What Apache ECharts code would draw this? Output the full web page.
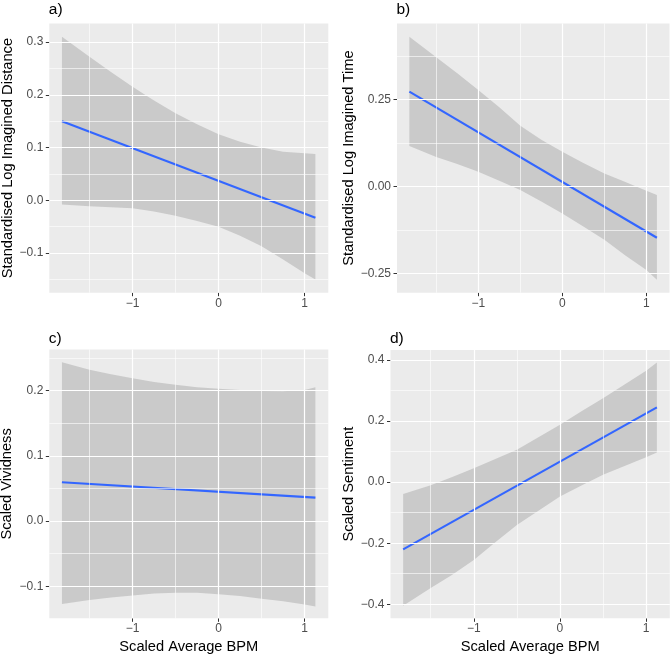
<!DOCTYPE html>
<html><head><meta charset="utf-8">
<script src="https://cdn.jsdelivr.net/npm/echarts@6/dist/echarts.min.js"></script>
<style>html,body{margin:0;padding:0;background:#fff}#c{width:671px;height:655px}</style>
</head><body><div id="c"></div>
<script>
// ---- data ----
const bandX = [-1.82, -1.5, -1.25, -1, -0.75, -0.5, -0.25, 0, 0.25, 0.5, 0.75, 1, 1.125];
const lineX = [-1.82, 1.125];

const aUpper = [0.310, 0.272, 0.243, 0.215, 0.189, 0.165, 0.144, 0.125, 0.111, 0.100, 0.092, 0.089, 0.088];
const aLower = [-0.008, -0.011, -0.013, -0.015, -0.021, -0.029, -0.039, -0.050, -0.067, -0.087, -0.112, -0.138, -0.150];
const aLine  = [0.150, -0.033];

const bUpper = [0.431, 0.372, 0.326, 0.278, 0.228, 0.175, 0.135, 0.100, 0.068, 0.038, 0.013, -0.012, -0.024];
const bLower = [0.117, 0.085, 0.065, 0.043, 0.017, -0.010, -0.043, -0.077, -0.115, -0.153, -0.198, -0.240, -0.268];
const bLine  = [0.273, -0.147];

const cUpper = [0.2435, 0.232, 0.225, 0.219, 0.213, 0.209, 0.205, 0.203, 0.201, 0.1995, 0.199, 0.201, 0.205];
const cLower = [-0.127, -0.121, -0.117, -0.114, -0.111, -0.110, -0.110, -0.112, -0.115, -0.119, -0.123, -0.128, -0.131];
const cLine  = [0.0595, 0.036];

const dUpper = [-0.039, -0.010, 0.017, 0.046, 0.076, 0.106, 0.147, 0.188, 0.232, 0.275, 0.320, 0.365, 0.392];
const dLower = [-0.405, -0.347, -0.303, -0.255, -0.197, -0.140, -0.094, -0.047, -0.011, 0.024, 0.053, 0.082, 0.097];
const dLine  = [-0.220, 0.245];

const xTicks = [-1, 0, 1];
const xMinor = [-1.5, -0.5, 0.5];
const aYTicks = [-0.1, 0, 0.1, 0.2, 0.3];
const aYMinor = [-0.15, -0.05, 0.05, 0.15, 0.25];
const bYTicks = [-0.25, 0, 0.25];
const bYMinor = [-0.125, 0.125, 0.375];
const cYTicks = [-0.1, 0, 0.1, 0.2];
const cYMinor = [-0.05, 0.05, 0.15, 0.25];
const dYTicks = [-0.4, -0.2, 0, 0.2, 0.4];
const dYMinor = [-0.3, -0.1, 0.1, 0.3];

const panelTags = ['a)', 'b)', 'c)', 'd)'];
const yTitles = ['Standardised Log Imagined Distance', 'Standardised Log Imagined Time', 'Scaled Vividness', 'Scaled Sentiment'];
const xTitle = 'Scaled Average BPM';

// ---- layout / style ----
const FONT = "'Liberation Sans', Arial, Helvetica, sans-serif";
const xRange = [-1.967, 1.275];
const panels = [
  {grid:{left:49.3, top:23.5, width:279, height:269.2}, tagTop:2, y:[-0.175, 0.335], yt:aYTicks, ym:aYMinor, dec:1, up:aUpper, lo:aLower, ln:aLine, nameGap:34, xName:false},
  {grid:{left:397, top:23.5, width:272.5, height:269.2}, tagTop:2, y:[-0.305, 0.469], yt:bYTicks, ym:bYMinor, dec:2, up:bUpper, lo:bLower, ln:bLine, nameGap:41, xName:false},
  {grid:{left:49.3, top:349.5, width:279, height:268.8}, tagTop:331, y:[-0.149, 0.263], yt:cYTicks, ym:cYMinor, dec:1, up:cUpper, lo:cLower, ln:cLine, nameGap:35, xName:true},
  {grid:{left:390.5, top:350, width:279.3, height:268.3}, tagTop:331, y:[-0.446, 0.433], yt:dYTicks, ym:dYMinor, dec:1, up:dUpper, lo:dLower, ln:dLine, nameGap:34, xName:true}
];

function fmt(v, dec) {
  return (dec == null ? String(v) : Number(v).toFixed(dec)).replace('-', '\u2212');
}

function gridLines(i, xs, ys, width) {
  const items = [];
  xs.forEach(function (v) { items.push({xAxis: v}); });
  ys.forEach(function (v) { items.push({yAxis: v}); });
  return {
    type:'line', xAxisIndex:i, yAxisIndex:i, z:1, silent:true, data:[],
    markLine:{
      silent:true, animation:false, symbol:['none', 'none'], precision:4,
      label:{show:false}, emphasis:{disabled:true},
      lineStyle:{color:'#FFFFFF', width:width, type:'solid', opacity:1},
      data:items
    }
  };
}

const grids = [], xAxes = [], yAxes = [], series = [], titles = [];
panels.forEach(function (p, i) {
  grids.push(Object.assign({show:true, backgroundColor:'#EBEBEB', borderWidth:0, outerBoundsMode:'none', containLabel:false}, p.grid));
  titles.push({text:panelTags[i], left:p.grid.left - 0.5, top:p.tagTop, padding:0,
    textStyle:{fontSize:15.5, fontWeight:'normal', color:'#000', fontFamily:FONT}});
  xAxes.push({type:'value', gridIndex:i, min:xRange[0], max:xRange[1], position:'bottom',
    axisLine:{show:false, onZero:false},
    axisTick:{show:true, length:3.5, lineStyle:{color:'#333333', width:1}, customValues:xTicks},
    axisLabel:{show:true, customValues:xTicks, formatter:function(v){return fmt(v);}, color:'#4D4D4D', fontSize:12, margin:4.5, fontFamily:FONT},
    splitLine:{show:false},
    name:p.xName ? xTitle : '', nameLocation:'middle', nameGap:21,
    nameTextStyle:{fontSize:14.67, color:'#000', fontFamily:FONT}
  });
  yAxes.push({type:'value', gridIndex:i, min:p.y[0], max:p.y[1], position:'left',
    axisLine:{show:false, onZero:false},
    axisTick:{show:true, length:3.5, lineStyle:{color:'#333333', width:1}, customValues:p.yt},
    axisLabel:{show:true, customValues:p.yt, formatter:(function(d){return function(v){return fmt(v, d);};})(p.dec), color:'#4D4D4D', fontSize:12, margin:6, fontFamily:FONT},
    splitLine:{show:false},
    name:yTitles[i], nameLocation:'middle', nameGap:p.nameGap, nameRotate:90,
    nameTextStyle:{fontSize:14.67, color:'#000', fontFamily:FONT}
  });

  series.push(gridLines(i, xMinor, p.ym, 0.6));
  series.push(gridLines(i, xTicks, p.yt, 1.2));

  const up = p.up, lo = p.lo;
  series.push({
    type:'custom', xAxisIndex:i, yAxisIndex:i, z:3, silent:true,
    data: bandX.map(function(x, k){ return [x, up[k], lo[k]]; }),
    encode:{x:0, y:[1,2]},
    renderItem:function(params, api){
      if (params.dataIndex !== 0) return null;
      const pts = [];
      for (let k = 0; k < bandX.length; k++) pts.push(api.coord([bandX[k], up[k]]));
      for (let k = bandX.length - 1; k >= 0; k--) pts.push(api.coord([bandX[k], lo[k]]));
      return {type:'polygon', shape:{points:pts}, style:{fill:'rgba(153,153,153,0.4)', stroke:null}};
    }
  });
  series.push({
    type:'line', xAxisIndex:i, yAxisIndex:i, z:4, silent:true,
    data: lineX.map(function(x, k){ return [x, p.ln[k]]; }),
    showSymbol:false, symbol:'none',
    lineStyle:{color:'#3366FF', width:2.1}
  });
});

const chart = echarts.init(document.getElementById('c'), null, {renderer:'canvas'});
chart.setOption({
  animation:false,
  backgroundColor:'#FFFFFF',
  title:titles,
  grid:grids,
  xAxis:xAxes,
  yAxis:yAxes,
  series:series
});
</script>
</body></html>
